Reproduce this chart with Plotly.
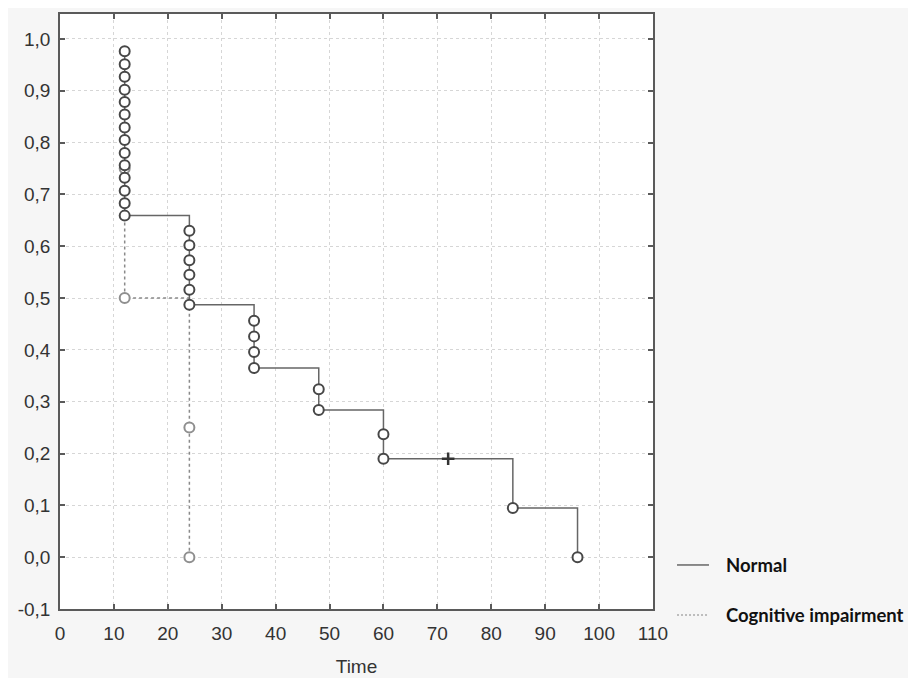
import plotly.graph_objects as go

# ---- data ----
normal_time = [12]*14 + [24]*6 + [36]*4 + [48]*2 + [60]*2 + [72] + [84] + [96]
normal_surv = [0.976, 0.951, 0.927, 0.902, 0.878, 0.854, 0.829, 0.805, 0.780, 0.756,
               0.732, 0.707, 0.683, 0.659,
               0.630, 0.602, 0.573, 0.545, 0.516, 0.487,
               0.456, 0.426, 0.396, 0.365,
               0.324, 0.284,
               0.237, 0.190,
               0.190,
               0.095,
               0.0]
normal_censored = [False]*28 + [True] + [False, False]

cog_time = [12, 12, 24, 24]
cog_surv = [0.75, 0.50, 0.25, 0.0]

x_ticks = [0, 10, 20, 30, 40, 50, 60, 70, 80, 90, 100, 110]
y_ticks = [-0.1, 0.0, 0.1, 0.2, 0.3, 0.4, 0.5, 0.6, 0.7, 0.8, 0.9, 1.0]
y_ticktext = ["-0,1", "0,0", "0,1", "0,2", "0,3", "0,4", "0,5", "0,6", "0,7", "0,8", "0,9", "1,0"]
series_names = ["Normal", "Cognitive impairment"]

fig = go.Figure()

# Cognitive impairment (dotted, lighter)
fig.add_trace(go.Scatter(
    x=cog_time, y=cog_surv, mode="lines+markers", line_shape="hv",
    line=dict(color="#8a8a8a", width=1.5, dash="3px,3px"),
    marker=dict(symbol="circle", size=10, color="white",
                line=dict(color="#8f8f8f", width=2)),
    name=series_names[1], showlegend=False))

# Normal step line
fig.add_trace(go.Scatter(
    x=normal_time, y=normal_surv, mode="lines", line_shape="hv",
    line=dict(color="#666666", width=1.5),
    name=series_names[0], showlegend=False))

ev_x = [t for t, c in zip(normal_time, normal_censored) if not c]
ev_y = [s for s, c in zip(normal_surv, normal_censored) if not c]
ce_x = [t for t, c in zip(normal_time, normal_censored) if c]
ce_y = [s for s, c in zip(normal_surv, normal_censored) if c]

fig.add_trace(go.Scatter(
    x=ev_x, y=ev_y, mode="markers",
    marker=dict(symbol="circle", size=10, color="white",
                line=dict(color="#474747", width=2)),
    showlegend=False))
fig.add_trace(go.Scatter(
    x=ce_x, y=ce_y, mode="markers",
    marker=dict(symbol="cross-thin", size=9,
                line=dict(color="#333333", width=2.5)),
    showlegend=False))

tick_font = dict(family="Liberation Sans, Arial, sans-serif", size=19, color="#333333")
axis_common = dict(
    showline=True, linecolor="#5a5a5a", linewidth=1.5, mirror="ticks",
    ticks="inside", ticklen=5, tickcolor="#5a5a5a", tickwidth=1.5,
    showgrid=True, gridcolor="#d6d6d6", gridwidth=1, griddash="dot",
    zeroline=False, tickfont=tick_font,
)

fig.update_xaxes(range=[0, 110], tickvals=x_ticks, ticklabelstandoff=6, **axis_common,
                 title=dict(text="Time", font=tick_font, standoff=17))
fig.update_yaxes(range=[-0.1, 1.048], tickvals=y_ticks, ticktext=y_ticktext,
                 ticklabelstandoff=4, **axis_common)

# manual legend (paper coords)
fig.add_shape(type="line", xref="paper", yref="paper", x0=1.0405, x1=1.0944, y0=0.074, y1=0.074,
              line=dict(color="#666666", width=1.5))
fig.add_shape(type="line", xref="paper", yref="paper", x0=1.0405, x1=1.0944, y0=-0.010, y1=-0.010,
              line=dict(color="#aaaaaa", width=1.5, dash="2px,2px"))
fig.add_annotation(xref="paper", yref="paper", x=1.1197, y=0.074, text="<b>Normal</b>",
                   showarrow=False, xanchor="left", yanchor="middle",
                   font=dict(family="Lato, sans-serif", size=18.5, color="#111111"))
fig.add_annotation(xref="paper", yref="paper", x=1.1197, y=-0.010, text="<b>Cognitive impairment</b>",
                   showarrow=False, xanchor="left", yanchor="middle",
                   font=dict(family="Lato, sans-serif", size=18.5, color="#111111"))

fig.update_layout(
    width=900, height=670,
    margin=dict(l=52, r=255, t=4, b=65),
    paper_bgcolor="#f6f6f6", plot_bgcolor="white",
    showlegend=False,
)

fig.write_html("out.html")
